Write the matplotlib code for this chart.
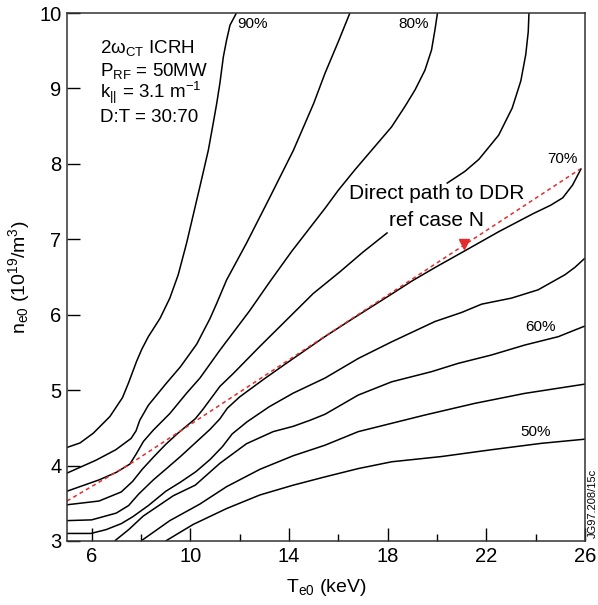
import numpy as np
import matplotlib
matplotlib.use("Agg")
import matplotlib.pyplot as plt

plt.rcParams["font.family"] = ["Liberation Sans", "DejaVu Sans"]
plt.rcParams["mathtext.fontset"] = "custom"
plt.rcParams["mathtext.rm"] = "Liberation Sans"
plt.rcParams["mathtext.it"] = "Liberation Sans:italic"
plt.rcParams["mathtext.bf"] = "Liberation Sans:bold"

# contour lines of constant fraction (Te0 in keV, ne0 in 1e19/m^3)
t_90 = [5.0, 5.53, 6.07, 6.74, 7.25, 7.5, 7.82, 8.03, 8.30, 8.77, 9.17, 9.51, 9.85, 10.39, 10.73, 10.93, 11.07, 11.20, 11.34, 11.47, 11.61, 11.87]
n_90 = [4.24, 4.30, 4.43, 4.65, 4.90, 5.10, 5.38, 5.54, 5.71, 5.95, 6.22, 6.53, 6.95, 7.70, 8.18, 8.54, 8.80, 9.07, 9.42, 9.64, 9.84, 10.0]

t_85 = [5.0, 6.17, 6.98, 7.6, 7.8, 7.95, 8.3, 9.0, 9.6, 10.26, 10.8, 11.07, 11.47, 12.28, 13.23, 14.18, 15.0, 15.46, 16.0, 16.47]
n_85 = [3.90, 4.07, 4.21, 4.36, 4.46, 4.60, 4.80, 5.08, 5.31, 5.61, 5.95, 6.15, 6.46, 6.95, 7.56, 8.18, 8.80, 9.20, 9.62, 10.0]

t_80 = [5.0, 6.3, 7.0, 7.55, 7.8, 8.1, 8.5, 9.17, 9.85, 10.39, 11.2, 12.4, 13.23, 14.11, 15.46, 16.0, 16.67, 17.48, 18.16, 18.7, 19.11, 19.51, 19.78, 19.92, 20.02]
n_80 = [3.66, 3.81, 3.91, 4.02, 4.15, 4.32, 4.47, 4.69, 4.96, 5.16, 5.53, 6.05, 6.44, 6.84, 7.41, 7.65, 7.92, 8.23, 8.49, 8.76, 8.98, 9.24, 9.51, 9.78, 10.0]

# 75 % line is broken by the annotation text
t_75a = [5.0, 6.3, 7.2, 7.66, 8.05, 8.5, 9.0, 9.5, 10.2, 10.5, 11.2, 11.74, 12.82, 13.9, 14.98, 16.07, 17.0, 18.0]
n_75a = [3.48, 3.53, 3.65, 3.79, 3.95, 4.11, 4.28, 4.43, 4.62, 4.74, 5.05, 5.22, 5.58, 5.93, 6.28, 6.57, 6.83, 7.09]
t_75b = [20.39, 21.13, 21.7, 22.5, 23.05, 23.4, 23.6, 23.7, 23.73]
n_75b = [7.74, 7.90, 8.06, 8.38, 8.74, 9.10, 9.45, 9.75, 10.0]

t_70 = [5.0, 6.0, 7.0, 7.5, 7.9, 8.5, 9.0, 9.6, 10.2, 10.8, 11.2, 11.5, 12.0, 13.0, 14.0, 15.46, 16.5, 18.0, 19.0, 20.0, 21.2, 22.5, 23.9, 24.6, 25.1, 25.5, 25.85]
n_70 = [3.27, 3.28, 3.37, 3.47, 3.62, 3.81, 3.95, 4.12, 4.30, 4.48, 4.62, 4.76, 4.91, 5.15, 5.38, 5.71, 5.93, 6.24, 6.45, 6.64, 6.86, 7.10, 7.34, 7.45, 7.55, 7.72, 7.94]

t_65 = [5.0, 5.97, 6.58, 7.2, 7.66, 8.3, 9.01, 9.6, 10.23, 10.8, 11.3, 11.7, 12.3, 13.2, 14.17, 15.46, 16.81, 18.16, 19.92, 21.0, 21.81, 23.02, 24.10, 25.19, 25.6, 26.0]
n_65 = [3.10, 3.10, 3.15, 3.23, 3.32, 3.47, 3.66, 3.78, 3.92, 4.08, 4.25, 4.42, 4.58, 4.78, 4.96, 5.16, 5.42, 5.64, 5.91, 6.03, 6.14, 6.22, 6.33, 6.53, 6.63, 6.75]

t_60 = [6.93, 7.5, 8.09, 9.31, 10.2, 11.2, 12.28, 13.36, 14.17, 14.85, 15.46, 16.81, 18.16, 19.78, 20.86, 22.21, 23.56, 24.92, 25.59, 26.0]
n_60 = [3.0, 3.15, 3.33, 3.60, 3.74, 4.03, 4.29, 4.45, 4.52, 4.60, 4.68, 4.935, 5.11, 5.245, 5.355, 5.466, 5.598, 5.709, 5.797, 5.85]

t_55 = [8.0, 9.17, 10.39, 11.47, 12.82, 14.17, 15.46, 16.81, 18.16, 19.51, 21.54, 23.56, 26.0]
n_55 = [3.0, 3.27, 3.49, 3.72, 3.95, 4.13, 4.27, 4.45, 4.56, 4.67, 4.825, 4.957, 5.08]

t_50 = [9.0, 10.12, 11.47, 12.82, 14.17, 15.46, 16.81, 18.16, 20.19, 22.21, 24.24, 26.0]
n_50 = [3.0, 3.22, 3.43, 3.61, 3.74, 3.85, 3.96, 4.05, 4.12, 4.21, 4.295, 4.35]

# direct path to DDR reference case
t_path = [5.0, 7.55, 25.8]
n_path = [3.53, 4.02, 7.93]
t_arrow, n_arrow = 21.1, 6.94

labels = ["90%", "80%", "70%", "60%", "50%"]
label_t = [11.9, 18.45, 24.48, 23.56, 23.36]
label_n = [9.85, 9.857, 8.064, 5.837, 4.445]

red = "#e52b2b"

fig = plt.figure(figsize=(5.98, 6.05), dpi=100)
ax = fig.add_axes([0.112, 0.1058, 0.8662, 0.8727])

lines = [(t_90, n_90), (t_85, n_85), (t_80, n_80), (t_75a, n_75a), (t_75b, n_75b),
         (t_70, n_70), (t_65, n_65), (t_60, n_60), (t_55, n_55), (t_50, n_50)]
for t, n in lines:
    ax.plot(t, n, color="black", lw=1.1, solid_capstyle="butt")

ax.plot(t_path, n_path, color=red, lw=1.1, linestyle=(0, (2.6, 2.2)))
ax.plot([t_arrow], [n_arrow], marker="v", color=red, markersize=6.5, linestyle="none")

for lab, t, n in zip(labels, label_t, label_n):
    ax.text(t, n, lab, fontsize=11, ha="left", va="center")

ax.text(19.98, 7.61, "Direct path to DDR", fontsize=15, ha="center", va="center")
ax.text(19.98, 7.25, "ref case N", fontsize=15, ha="center", va="center")

info = [r"2ω$_\mathrm{CT}$ ICRH", r"P$_\mathrm{RF}$ = 50MW",
        r"k$_{||}$ = 3.1 m$^{-1}$", "D:T = 30:70"]
info_n = [9.47, 9.165, 8.87, 8.56]
for s, n in zip(info, info_n):
    ax.text(6.34, n, s, fontsize=13.5, ha="left", va="baseline")

ax.set_xlim(5, 26)
ax.set_ylim(3, 10)
ax.set_xticks([6, 10, 14, 18, 22, 26])
ax.set_xticks([8, 12, 16, 20, 24], minor=True)
ax.set_yticks(range(3, 11))
ax.tick_params(which="major", direction="in", length=9.5, width=1, labelsize=14.5, pad=4,
               right=False, top=False)
ax.tick_params(which="minor", direction="in", length=5, width=1)
for sp in ax.spines.values():
    sp.set_color("#333333")
    sp.set_linewidth(1.1)

ax.set_xlabel(r"T$_\mathrm{e0}$ (keV)", fontsize=14, labelpad=8)
ax.set_ylabel(r"n$_\mathrm{e0}$ (10$^{19}$/m$^3$)", fontsize=14, labelpad=5)

fig.text(0.9916, 0.111, "JG97.208/15c", rotation=90, fontsize=8, ha="center", va="bottom")

fig.savefig("out.png", dpi=100)
